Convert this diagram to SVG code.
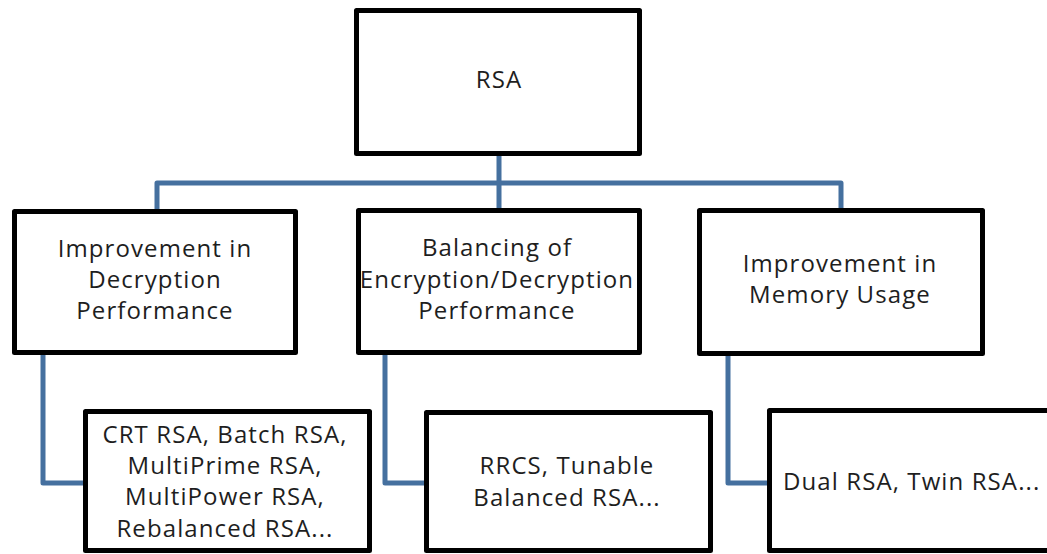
<svg xmlns="http://www.w3.org/2000/svg" width="1047" height="554" viewBox="0 0 1047 554">
  <style>
    .box { fill: #ffffff; stroke: #000000; stroke-width: 5; stroke-linejoin: round; }
    .link { fill: none; stroke: #45709F; stroke-width: 5; stroke-linejoin: round; }
    .label { font-family: "Open Sans", "Liberation Sans", sans-serif; font-size: 24px; fill: #1e1e1e; letter-spacing: 1.1px; text-anchor: middle; }
  </style>
  <rect width="1047" height="554" fill="#ffffff"/>

  <!-- tree connectors -->
  <g id="connectors">
    <path class="link" d="M499,156 V183 M157,209 V183 H841 V208 M499,183 V208"/>
    <path class="link" d="M43,355 V483 H84"/>
    <path class="link" d="M385,355 V483 H425"/>
    <path class="link" d="M728,356 V483 H768"/>
  </g>

  <g id="rsa">
    <rect class="box" x="356.5" y="10.5" width="283" height="143"/>
    <text class="label" x="499" y="88">RSA</text>
  </g>

  <g id="decryption-performance">
    <rect class="box" x="14.5" y="211.5" width="281" height="141"/>
    <text class="label" x="155" y="257">Improvement in</text>
    <text class="label" x="155" y="288">Decryption</text>
    <text class="label" x="155" y="319">Performance</text>
  </g>

  <g id="balancing">
    <rect class="box" x="358.5" y="210.5" width="281" height="142"/>
    <text class="label" x="497" y="256">Balancing of</text>
    <text class="label" x="497" y="288">Encryption/Decryption</text>
    <text class="label" x="497" y="319">Performance</text>
  </g>

  <g id="memory-usage">
    <rect class="box" x="699.5" y="210.5" width="283" height="143"/>
    <text class="label" x="840" y="272">Improvement in</text>
    <text class="label" x="840" y="303">Memory Usage</text>
  </g>

  <g id="decryption-variants">
    <rect class="box" x="85.5" y="411.5" width="284" height="139"/>
    <text class="label" x="225" y="443">CRT RSA, Batch RSA,</text>
    <text class="label" x="225" y="474">MultiPrime RSA,</text>
    <text class="label" x="225" y="505">MultiPower RSA,</text>
    <text class="label" x="225" y="537">Rebalanced RSA...</text>
  </g>

  <g id="balanced-variants">
    <rect class="box" x="426.5" y="412.5" width="284" height="138"/>
    <text class="label" x="567" y="474">RRCS, Tunable</text>
    <text class="label" x="567" y="506">Balanced RSA...</text>
  </g>

  <g id="memory-variants">
    <rect class="box" x="769.5" y="410.5" width="300" height="140"/>
    <text class="label" x="783" y="490" style="text-anchor: start">Dual RSA, Twin RSA...</text>
  </g>
</svg>
